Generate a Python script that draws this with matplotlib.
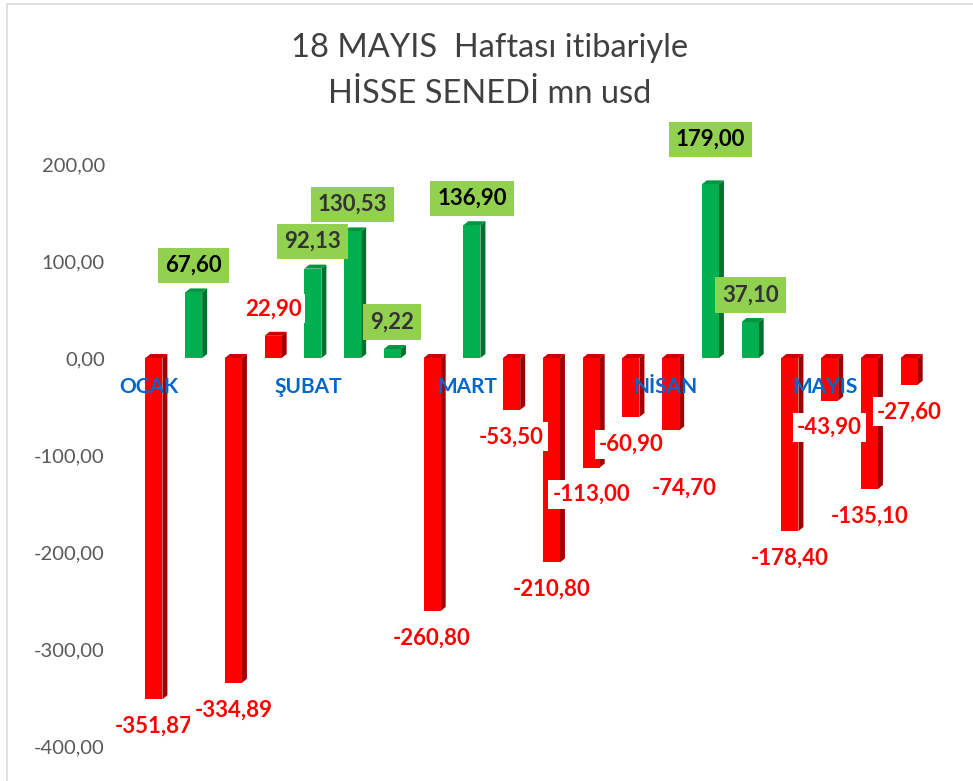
import numpy as np
import matplotlib
matplotlib.use('Agg')
import matplotlib.pyplot as plt
from matplotlib.patches import Polygon, Rectangle
from matplotlib.ticker import FuncFormatter
from matplotlib.transforms import ScaledTranslation

plt.rcParams['font.family'] = ['Lato', 'DejaVu Sans']

# data
values = [-351.87, 67.60, -334.89, 22.90, 92.13, 130.53, 9.22, -260.80, 136.90, -53.50,
          -210.80, -113.00, -60.90, -74.70, 179.00, 37.10, -178.40, -43.90, -135.10, -27.60]
is_green = [0, 1, 0, 0, 1, 1, 1, 0, 1, 0, 0, 0, 0, 0, 1, 1, 0, 0, 0, 0]
months = ['OCAK', '', '', '', 'ŞUBAT', '', '', '', 'MART', '', '',
          '', '', 'NİSAN', '', '', '', 'MAYIS', '', '']
yticks = [-400, -300, -200, -100, 0, 100, 200]
title = '18 MAYIS  Haftası itibariyle\nHİSSE SENEDİ mn usd'

def fmt(v):
    return ('%.2f' % v).replace('.', ',')

fig = plt.figure(figsize=(9.73, 7.81), dpi=100)
ax = fig.add_axes([134/973, 1-746/781, 795/973, 582/781])
x = np.arange(len(values))
ax.set_xlim(-0.5, len(values)-0.5)
ax.set_ylim(-400, 200)

# pixel -> data scale for the 3d faces
bb = ax.get_window_extent()
px_x = (ax.get_xlim()[1]-ax.get_xlim()[0]) / bb.width
px_y = (ax.get_ylim()[1]-ax.get_ylim()[0]) / bb.height
dx, dy = 5*px_x, 4*px_y
w = 0.43

for xi, v, g in zip(x, values, is_green):
    if g:
        side, top = '#00702F', '#00963F'
    else:
        side, top = '#A00000', '#CC0000'
    lo, hi = min(0, v), max(0, v)
    r = xi + w/2
    ax.add_patch(Polygon([(r, lo), (r+dx, lo+dy), (r+dx, hi+dy), (r, hi)],
                         closed=True, fc=side, ec='none', zorder=1))
    ax.add_patch(Polygon([(xi-w/2, hi), (xi-w/2+dx, hi+dy), (r+dx, hi+dy), (r, hi)],
                         closed=True, fc=top, ec='none', zorder=1))
ax.bar(x, values, width=w, color=['#00B050' if g else '#FF0000' for g in is_green],
       linewidth=0, zorder=1.5)

# data labels
black_idx = [1, 8, 14]
moved = {14: (0, 45), 13: (14, 58)}
for i, (v, g) in enumerate(zip(values, is_green)):
    ox, oy = moved.get(i, (0, 27))
    sgn = 1 if v >= 0 else -1
    if g:
        col = '#000000' if i in black_idx else '#333333'
        box = dict(boxstyle='square,pad=0.32', fc='#92D050', ec='none')
    else:
        col = '#FF0000'
        box = dict(boxstyle='square,pad=0.18', fc='white', ec='none')
    ax.annotate(fmt(v), xy=(i, v), xytext=(ox*0.72, sgn*oy*0.72), textcoords='offset points',
                ha='center', va='center', fontsize=16, fontweight='bold', color=col,
                bbox=box, zorder=6)

# category labels
ax.spines['bottom'].set_position(('data', 0))
for s in ax.spines.values():
    s.set_visible(False)
ax.set_xticks(x)
ax.set_xticklabels(months, fontsize=15, fontweight='bold', color='#0066CC')
ax.tick_params(axis='x', length=0, pad=14)
shift = ScaledTranslation(-5/100, 0, fig.dpi_scale_trans)
for lbl in ax.get_xticklabels():
    lbl.set_transform(lbl.get_transform() + shift)
ax.set_yticks(yticks)
ax.yaxis.set_major_formatter(FuncFormatter(lambda v, p: fmt(v)))
ax.tick_params(axis='y', length=0, pad=21, labelsize=14.5, labelcolor='#595959')
ax.set_axisbelow(False)
ax.xaxis.set_zorder(2.5)

fig.text(490/973, 1-71/781, title, ha='center', va='center', fontsize=23.5,
         color='#404040', linespacing=1.65)

# chart frame
fig.patches.append(Rectangle((7/973, -0.1), 1.2, 1-4/781+0.1, transform=fig.transFigure,
                             fill=False, ec='#D9D9D9', lw=1.2))

fig.savefig('out.png', dpi=100)
